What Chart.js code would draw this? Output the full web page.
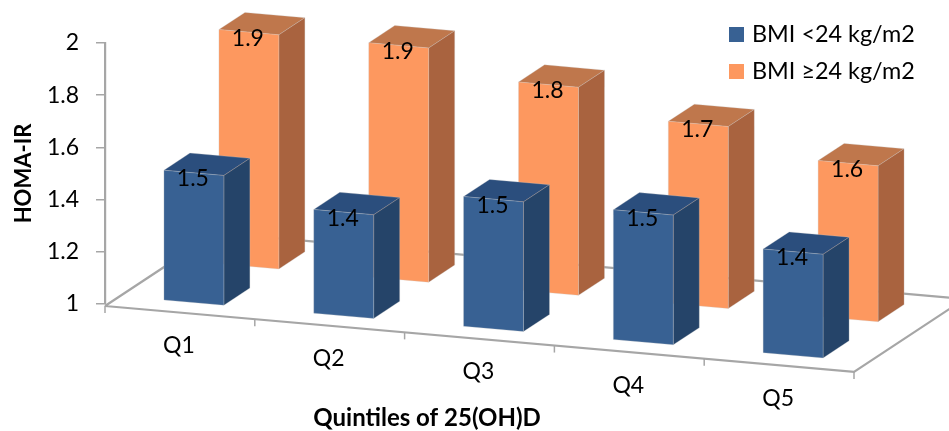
<!DOCTYPE html>
<html>
<head>
<meta charset="utf-8">
<script src="https://cdn.jsdelivr.net/npm/chart.js@4"></script>
<style>
  html, body { margin: 0; padding: 0; background: #fff; }
  canvas { display: block; }
</style>
</head>
<body>
<canvas id="myChart" width="949" height="431"></canvas>
<script>
'use strict';

//// Data
const categories = ['Q1', 'Q2', 'Q3', 'Q4', 'Q5'];
const bmiLow = [1.5, 1.4, 1.5, 1.5, 1.4];
const bmiHigh = [1.9, 1.9, 1.8, 1.7, 1.6];
const yTicks = [1, 1.2, 1.4, 1.6, 1.8, 2];

//// Faces of the boxes
const blueFaces = { front: '#386193', top: '#2b4e7d', side: '#254469' };
const orangeFaces = { front: '#fd985f', top: '#bf774c', side: '#a9633f' };

//// Fake 3d floor: depth 1 is the back edge of the floor
const depthX = 110.7;
const depthY = -73;
const floorSlope = 0.088;
const barDepth = 0.235;
const rowDepth = [0.1265, 0.6233]; // dataset 0 in front, dataset 1 behind

const fontName = 'Lato, sans-serif';
const textColor = '#000';

function project(chart, x, y, d) {
    return {
        x: x + depthX * d,
        y: y + 2 + floorSlope * (x - chart.chartArea.left) + depthY * d
    };
}

function fillFace(ctx, pts, color) {
    ctx.beginPath();
    pts.forEach((p, i) => i ? ctx.lineTo(p.x, p.y) : ctx.moveTo(p.x, p.y));
    ctx.closePath();
    ctx.fillStyle = color;
    ctx.fill();
    ctx.lineWidth = 0.8;
    ctx.strokeStyle = 'rgba(200,200,200,0.35)';
    ctx.stroke();
}

const floorPlugin = {
    id: 'floor',
    beforeDatasetsDraw(chart) {
        const ctx = chart.ctx;
        const xs = chart.scales.x;
        const bottom = chart.scales.y.bottom;
        const slot = (xs.right - xs.left) / categories.length;
        const a = project(chart, xs.left, bottom, 0);
        const b = project(chart, xs.right, bottom, 0);
        const c = project(chart, xs.right, bottom, 1);
        const d = project(chart, xs.left, bottom, 1);
        ctx.save();
        ctx.strokeStyle = '#a6a6a6';
        ctx.lineWidth = 2.2;
        ctx.beginPath();
        ctx.moveTo(a.x, a.y);
        ctx.lineTo(d.x, d.y);
        ctx.lineTo(c.x, c.y);
        ctx.lineTo(b.x, b.y);
        ctx.lineTo(a.x, a.y);
        ctx.stroke();
        // ticks under the front edge
        ctx.lineWidth = 1.5;
        for (let i = 0; i <= categories.length; i++) {
            const p = project(chart, xs.left + i * slot, bottom, 0);
            ctx.beginPath();
            ctx.moveTo(p.x, p.y);
            ctx.lineTo(p.x, p.y + 7);
            ctx.stroke();
        }
        ctx.restore();
    },
    beforeDatasetDraw(chart, args) {
        const ctx = chart.ctx;
        const faces = chart.data.datasets[args.index].faces;
        const d0 = rowDepth[args.index];
        const d1 = d0 + barDepth;
        ctx.save();
        args.meta.data.forEach(bar => {
            const l = bar.x - bar.width / 2;
            const r = bar.x + bar.width / 2;
            const top = bar.y;
            const base = bar.base;
            fillFace(ctx, [
                project(chart, l, top, d0), project(chart, r, top, d0),
                project(chart, r, top, d1), project(chart, l, top, d1)
            ], faces.top);
            fillFace(ctx, [
                project(chart, r, top, d0), project(chart, r, top, d1),
                project(chart, r, base, d1), project(chart, r, base, d0)
            ], faces.side);
            fillFace(ctx, [
                project(chart, l, top, d0), project(chart, r, top, d0),
                project(chart, r, base, d0), project(chart, l, base, d0)
            ], faces.front);
        });
        ctx.restore();
        return false;
    },
    afterDatasetsDraw(chart) {
        const ctx = chart.ctx;
        const xs = chart.scales.x;
        const bottom = chart.scales.y.bottom;
        ctx.save();
        ctx.fillStyle = textColor;
        ctx.textAlign = 'center';
        ctx.textBaseline = 'middle';
        ctx.font = '23px ' + fontName;

        // value labels
        chart.data.datasets.forEach((ds, di) => {
            chart.getDatasetMeta(di).data.forEach((bar, i) => {
                const p = project(chart, bar.x, bar.y, rowDepth[di]);
                ctx.fillText(ds.data[i].toFixed(1), p.x - 1, p.y + 6);
            });
        });

        // category labels follow the floor edge
        categories.forEach((label, i) => {
            const x = xs.getPixelForTick(i);
            const p = project(chart, x, bottom, 0);
            ctx.fillText(label, p.x - 1, p.y + 33);
        });

        // x axis title
        ctx.font = 'bold 24px ' + fontName;
        ctx.fillText('Quintiles of 25(OH)D', 427, 418);

        // legend
        ctx.textAlign = 'left';
        ctx.font = '23.4px ' + fontName;
        chart.data.datasets.forEach((ds, di) => {
            const y = 27 + di * 37;
            ctx.fillStyle = ds.backgroundColor;
            ctx.fillRect(729, y, 15, 15);
            ctx.fillStyle = textColor;
            ctx.fillText(ds.label, 752, y + 7.5);
        });
        ctx.restore();
    }
};

var ctx = document.getElementById('myChart').getContext('2d');

var chart = new Chart(ctx, {
    type: 'bar',
    data: {
        labels: categories,
        datasets: [{
            label: 'BMI <24 kg/m2',
            data: bmiLow,
            base: 1,
            backgroundColor: blueFaces.front,
            faces: blueFaces
        }, {
            label: 'BMI ≥24 kg/m2',
            data: bmiHigh,
            base: 1,
            backgroundColor: orangeFaces.front,
            faces: orangeFaces
        }]
    },
    options: {
        responsive: false,
        animation: false,
        layout: { padding: { top: 43, right: 95, bottom: 0, left: 0 } },
        datasets: { bar: { grouped: false, barPercentage: 0.4, categoryPercentage: 1 } },
        plugins: { legend: { display: false }, tooltip: { enabled: false } },
        scales: {
            x: {
                ticks: { display: false },
                grid: { display: false },
                border: { display: false },
                afterFit(scale) { scale.height = 127; }
            },
            y: {
                min: 1,
                max: 2,
                afterFit(scale) { scale.width = 105; },
                afterBuildTicks(scale) { scale.ticks = yTicks.map(v => ({ value: v })); },
                ticks: {
                    color: textColor,
                    font: { family: fontName, size: 23 },
                    padding: 17,
                    callback: v => String(v)
                },
                grid: { drawOnChartArea: false, color: '#a6a6a6', tickLength: 9, lineWidth: 1.5 },
                border: { color: '#a6a6a6', width: 2.2 },
                title: {
                    display: true,
                    text: 'HOMA-IR',
                    color: textColor,
                    font: { family: fontName, size: 22, weight: 'bold' },
                    padding: { top: 11, bottom: 0 }
                }
            }
        }
    },
    plugins: [floorPlugin]
});
</script>
</body>
</html>
